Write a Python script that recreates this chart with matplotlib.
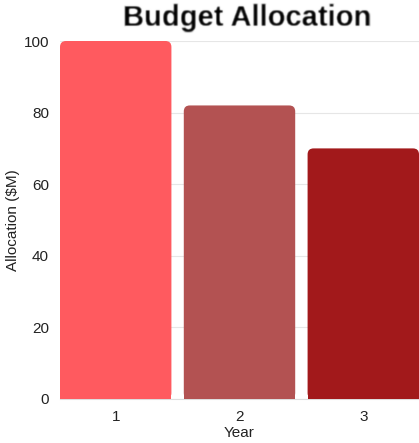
import numpy as np
import matplotlib
matplotlib.use("Agg")
import matplotlib.pyplot as plt
from matplotlib.patches import FancyBboxPatch, Rectangle

years = ["1", "2", "3"]
allocation = [100, 82, 70]
bar_colors = ["#FF5A5F", "#B35252", "#A2191B"]
y_ticks = [0, 20, 40, 60, 80, 100]

plt.rcParams["font.family"] = ["Liberation Sans", "DejaVu Sans"]


def soften(sigma):
    # small gaussian blur for the title, used through agg_filter
    def _filter(im, dpi):
        pad = int(3 * sigma) + 1
        k = np.exp(-0.5 * (np.arange(-pad, pad + 1) / sigma) ** 2)
        k /= k.sum()
        out = np.pad(im, ((pad, pad), (pad, pad), (0, 0)))
        for axis in (0, 1):
            out = np.apply_along_axis(lambda v: np.convolve(v, k, mode="same"), axis, out)
        return out, -pad, -pad
    return _filter


W, H = 419, 443
fig = plt.figure(figsize=(W / 100, H / 100), dpi=100)
ax = fig.add_axes([60 / W, (H - 399) / H, (W - 60) / W, (399 - 41) / H])

xlim = (-0.45, 2.45)
ax.set_xlim(*xlim)
ax.set_ylim(0, 100)

# rounded top corners: work out radius in data units from pixel size
px_x = (W - 60) / (xlim[1] - xlim[0])
px_y = (399 - 41) / 100
r_px = 6
rx = r_px / px_x
ry = r_px / px_y
width = 0.9

for i, (val, col) in enumerate(zip(allocation, bar_colors)):
    left = i - width / 2
    ax.add_patch(FancyBboxPatch((left, 0), width, val,
                                boxstyle=f"round,pad=0,rounding_size={rx}",
                                mutation_aspect=ry / rx,
                                facecolor=col, edgecolor="none", zorder=3))
    ax.add_patch(Rectangle((left, 0), width, val / 2, facecolor=col,
                           edgecolor="none", zorder=3))

ax.set_xticks(range(len(years)))
ax.set_xticklabels(years)
ax.set_yticks(y_ticks)
ax.tick_params(length=0, labelsize=11, colors="#222222", pad=8)
ax.grid(axis="y", color="#e6e6e6", linewidth=0.8, zorder=0)
for s in ["top", "right", "left"]:
    ax.spines[s].set_visible(False)
ax.spines["bottom"].set_color("#dddddd")

ax.set_xlabel("Year", fontsize=11, color="#222222")
ax.set_ylabel("Allocation ($M)", fontsize=11, color="#222222")
ax.xaxis.set_label_coords(0.5, -(433 - 399) / 358)
ax.yaxis.set_label_coords((13 - 60) / 359, 0.5)
ax.xaxis.label.set_va("center")
ax.yaxis.label.set_va("center")

title = fig.text(247 / W, 1 - 18 / H, "Budget Allocation", ha="center", va="center",
                 fontsize=21, fontweight="bold", color="#000000")
title.set_agg_filter(soften(0.8))

fig.savefig("out.png", dpi=100)
